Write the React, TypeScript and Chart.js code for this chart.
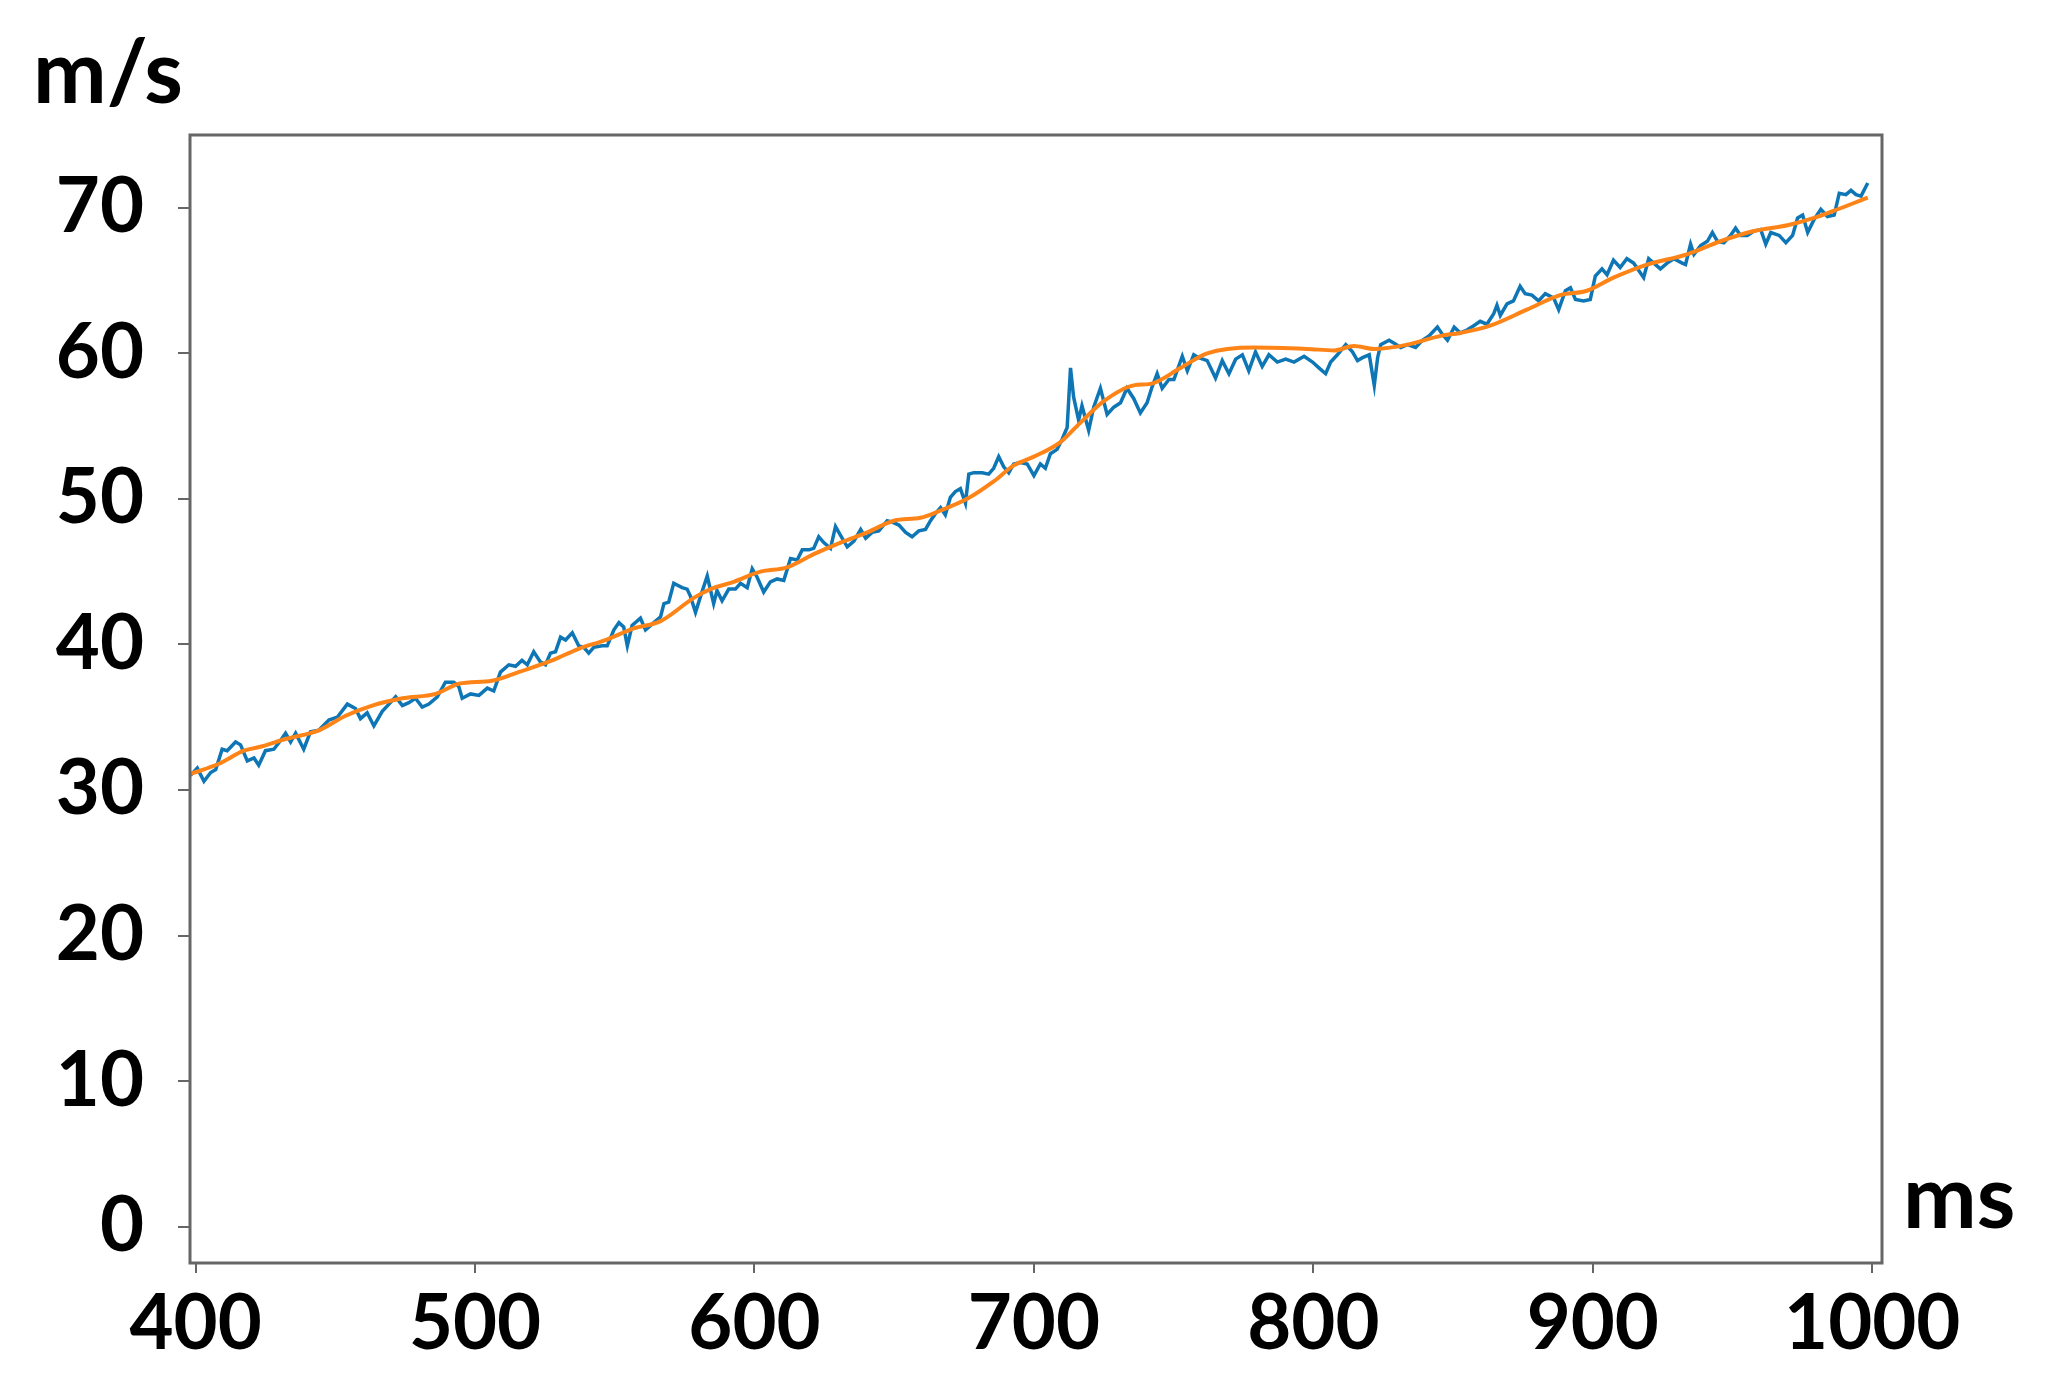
import React, { useRef, useEffect } from 'react';
import { Chart, registerables } from 'chart.js';

Chart.register(...registerables);

// raw speed signal (blue)
const rawTime = [
  398.2, 400.6, 403.0, 405.4, 407.2, 409.5, 411.3, 414.3, 416.1, 418.5, 420.9, 422.6, 425.0, 428.0, 430.4,
  432.2, 434.0, 435.8, 438.7, 441.1, 444.1, 447.7, 450.7, 454.3, 457.2, 459.0, 461.4, 463.8, 466.8, 469.2,
  471.6, 474.0, 476.3, 478.7, 481.1, 483.5, 486.5, 489.4, 492.4, 494.2, 495.4, 498.4, 501.4, 504.4, 506.7,
  509.1, 512.1, 514.5, 516.8, 518.7, 521.0, 523.4, 525.2, 527.0, 528.8, 530.6, 532.4, 534.8, 537.1, 538.9,
  540.7, 542.5, 545.5, 547.3, 549.7, 551.5, 553.2, 554.5, 556.2, 559.2, 561.0, 564.0, 566.4, 567.6, 569.3,
  571.1, 574.1, 575.9, 577.1, 578.9, 580.7, 583.1, 585.4, 586.6, 588.4, 590.8, 593.2, 595.0, 597.4, 599.2,
  601.0, 603.3, 605.7, 608.1, 610.5, 612.9, 615.3, 617.1, 619.5, 621.2, 623.0, 624.8, 627.2, 629.0, 630.8,
  633.2, 635.6, 638.0, 639.8, 642.1, 644.5, 647.5, 649.3, 651.7, 654.1, 656.4, 658.8, 661.2, 663.0, 664.8,
  666.6, 668.3, 670.1, 671.9, 673.7, 675.5, 676.7, 678.5, 681.5, 683.8, 685.6, 687.4, 689.2, 691.0, 692.8,
  695.2, 697.6, 700.0, 702.3, 704.1, 705.9, 708.3, 710.1, 711.9, 713.1, 714.2, 716.0, 717.2, 719.6, 721.4,
  723.8, 726.2, 728.6, 731.0, 733.3, 735.7, 738.1, 740.5, 742.3, 744.1, 745.9, 748.3, 750.1, 753.1, 754.9,
  757.2, 759.0, 762.0, 765.0, 767.4, 769.8, 772.2, 774.6, 776.9, 779.3, 781.7, 784.1, 787.1, 790.1, 793.1,
  796.7, 799.7, 802.0, 804.4, 806.2, 808.6, 811.6, 814.0, 815.8, 817.6, 820.0, 821.8, 823.0, 824.1, 827.1,
  828.9, 831.3, 833.7, 836.6, 839.0, 841.4, 844.4, 846.2, 848.0, 850.4, 852.6, 855.0, 857.4, 859.7, 862.1,
  864.5, 865.7, 866.9, 869.3, 871.6, 874.0, 875.8, 878.2, 880.6, 883.0, 886.0, 887.8, 890.2, 892.0, 893.8,
  896.7, 899.1, 900.9, 903.3, 905.1, 907.4, 909.8, 912.2, 914.6, 916.4, 918.2, 920.0, 921.8, 924.2, 926.6,
  929.0, 932.0, 933.2, 935.0, 936.2, 938.6, 941.0, 942.8, 944.6, 946.9, 949.3, 951.1, 952.9, 955.3, 957.7,
  960.1, 961.9, 963.7, 966.7, 969.1, 971.5, 973.3, 975.1, 976.9, 979.2, 981.6, 984.0, 986.4, 988.2, 990.6,
  992.4, 994.2, 996.0, 998.4,
];
const rawSpeed = [
  31.0, 31.5, 30.6, 31.2, 31.4, 32.8, 32.7, 33.3, 33.1, 32.0, 32.2, 31.7, 32.7, 32.8, 33.4,
  33.9, 33.3, 33.9, 32.8, 34.0, 34.1, 34.8, 35.0, 35.9, 35.6, 34.9, 35.3, 34.4, 35.4, 35.9,
  36.4, 35.8, 36.0, 36.3, 35.7, 35.9, 36.4, 37.4, 37.4, 37.1, 36.3, 36.6, 36.5, 37.0, 36.8,
  38.1, 38.6, 38.5, 38.9, 38.6, 39.5, 38.8, 38.6, 39.4, 39.5, 40.5, 40.3, 40.8, 39.9, 39.8,
  39.4, 39.8, 39.9, 39.9, 41.0, 41.5, 41.2, 39.9, 41.3, 41.8, 41.0, 41.5, 41.9, 42.8, 42.9,
  44.2, 43.9, 43.8, 43.3, 42.2, 43.3, 44.7, 42.8, 43.7, 43.0, 43.8, 43.8, 44.2, 43.9, 45.2,
  44.6, 43.6, 44.3, 44.5, 44.4, 45.9, 45.8, 46.5, 46.5, 46.6, 47.4, 47.0, 46.6, 48.1, 47.5,
  46.7, 47.1, 47.9, 47.3, 47.7, 47.8, 48.5, 48.4, 48.2, 47.7, 47.4, 47.8, 47.9, 48.5, 49.0,
  49.4, 48.9, 50.1, 50.5, 50.7, 49.7, 51.7, 51.8, 51.8, 51.7, 52.1, 52.9, 52.2, 51.8, 52.4,
  52.5, 52.4, 51.6, 52.4, 52.1, 53.1, 53.4, 54.1, 54.9, 59.0, 57.0, 55.4, 56.4, 54.7, 56.3,
  57.6, 55.8, 56.3, 56.6, 57.6, 56.9, 55.9, 56.6, 57.7, 58.6, 57.6, 58.2, 58.2, 59.8, 58.8,
  59.9, 59.7, 59.5, 58.3, 59.5, 58.6, 59.6, 59.9, 58.8, 60.1, 59.1, 59.9, 59.4, 59.6, 59.4,
  59.8, 59.4, 59.0, 58.6, 59.4, 59.9, 60.6, 60.1, 59.5, 59.7, 59.9, 57.8, 59.7, 60.6, 60.9,
  60.7, 60.4, 60.6, 60.4, 60.9, 61.2, 61.8, 61.3, 60.9, 61.8, 61.4, 61.6, 61.9, 62.2, 62.0,
  62.7, 63.3, 62.6, 63.4, 63.6, 64.6, 64.1, 64.0, 63.6, 64.1, 63.8, 63.0, 64.3, 64.5, 63.7,
  63.6, 63.7, 65.3, 65.8, 65.4, 66.4, 65.9, 66.5, 66.2, 65.7, 65.2, 66.5, 66.2, 65.8, 66.2,
  66.5, 66.2, 66.1, 67.5, 66.8, 67.4, 67.7, 68.3, 67.7, 67.6, 68.1, 68.6, 68.1, 68.1, 68.4,
  68.5, 67.5, 68.3, 68.1, 67.6, 68.1, 69.3, 69.5, 68.3, 69.2, 69.9, 69.4, 69.5, 71.0, 70.9,
  71.2, 70.9, 70.8, 71.7,
];

// smoothed speed (orange)
const smoothTime = [
  398.2, 408.3, 417.3, 423.9, 432.2, 444.1, 453.7, 463.2, 474.0, 485.9, 494.2, 506.1, 515.6, 527.6, 537.1,
  546.7, 556.8, 566.4, 578.3, 584.3, 592.6, 602.1, 611.7, 621.2, 630.8, 640.4, 649.9, 659.4, 666.6, 676.1,
  685.6, 692.8, 700.0, 709.5, 715.4, 724.9, 735.7, 741.7, 752.5, 762.0, 778.7, 797.8, 807.4, 814.5, 821.8,
  833.7, 845.6, 852.6, 863.3, 876.4, 888.3, 897.9, 907.4, 919.4, 933.7, 945.7, 957.7, 969.7, 979.2, 986.4,
  998.4,
];
const smoothSpeed = [
  31.1, 31.8, 32.7, 33.0, 33.5, 34.1, 35.1, 35.8, 36.3, 36.6, 37.3, 37.5, 38.1, 38.9, 39.7,
  40.3, 41.1, 41.6, 43.2, 43.8, 44.3, 45.0, 45.3, 46.2, 47.0, 47.7, 48.5, 48.7, 49.2, 50.0,
  51.2, 52.3, 52.9, 53.9, 55.0, 56.7, 57.8, 57.9, 59.0, 60.0, 60.4, 60.3, 60.2, 60.5, 60.3,
  60.6, 61.2, 61.4, 61.9, 63.0, 64.0, 64.3, 65.2, 66.1, 66.8, 67.7, 68.4, 68.8, 69.3, 69.8,
  70.7,
];

const xTicks = [400, 500, 600, 700, 800, 900, 1000];
const yTicks = [0, 10, 20, 30, 40, 50, 60, 70];

const FONT = 'Lato, "Open Sans", sans-serif';

// frame around the plot + unit labels
const framePlugin = {
  id: 'frame',
  afterDraw(chart: any) {
    const { ctx, chartArea: a } = chart;
    ctx.save();
    ctx.strokeStyle = '#666666';
    ctx.lineWidth = 3;
    ctx.strokeRect(a.left, a.top, a.right - a.left, a.bottom - a.top);
    ctx.fillStyle = '#000';
    ctx.font = `bold 88px ${FONT}`;
    ctx.textBaseline = 'alphabetic';
    ctx.textAlign = 'left';
    ctx.fillText('m/s', 33, 103);
    ctx.fillText('ms', a.right + 21, 1228);
    ctx.restore();
  },
};

const App = () => {
  const canvasRef = useRef<any>(null);
  const chartRef = useRef<any>(null);

  useEffect(() => {
    if (canvasRef.current) {
      const ctx = canvasRef.current.getContext('2d');
      if (chartRef.current) {
        chartRef.current.destroy();
      }

      chartRef.current = new Chart(ctx, {
        type: 'line',
        data: {
          datasets: [
            {
              label: 'raw',
              data: rawTime.map((t, i) => ({ x: t, y: rawSpeed[i] })),
              borderColor: '#0f76b5',
              borderWidth: 3.5,
              pointRadius: 0,
              tension: 0,
              order: 2,
            },
            {
              label: 'smooth',
              data: smoothTime.map((t, i) => ({ x: t, y: smoothSpeed[i] })),
              borderColor: '#ff8418',
              borderWidth: 4,
              pointRadius: 0,
              cubicInterpolationMode: 'monotone',
              order: 1,
            },
          ],
        },
        options: {
          animation: false,
          responsive: true,
          maintainAspectRatio: false,
          layout: { padding: { top: 135, right: 170, left: 0, bottom: 0 } },
          plugins: {
            legend: { display: false },
            tooltip: { enabled: false },
          },
          scales: {
            x: {
              type: 'linear',
              min: 398,
              max: 1003.5,
              afterBuildTicks: (s: any) => {
                s.ticks = xTicks.map((v) => ({ value: v }));
              },
              afterFit: (s: any) => {
                s.height = 123;
              },
              border: { display: false },
              grid: {
                drawOnChartArea: false,
                drawTicks: true,
                tickLength: 10,
                color: '#666666',
                lineWidth: 2,
              },
              ticks: {
                color: '#000',
                padding: 6,
                maxRotation: 0,
                callback: (v: any) => String(v),
                font: { family: FONT, size: 76, weight: 'bold' },
              },
            },
            y: {
              min: -2.5,
              max: 75,
              afterBuildTicks: (s: any) => {
                s.ticks = yTicks.map((v) => ({ value: v }));
              },
              afterFit: (s: any) => {
                s.width = 190;
              },
              border: { display: false },
              grid: {
                drawOnChartArea: false,
                drawTicks: true,
                tickLength: 12,
                color: '#666666',
                lineWidth: 2,
              },
              ticks: {
                color: '#000',
                padding: 34,
                callback: (v: any) => String(v),
                font: { family: FONT, size: 76, weight: 'bold' },
              },
            },
          },
        },
        plugins: [framePlugin],
      });
    }

    return () => {
      if (chartRef.current) {
        chartRef.current.destroy();
      }
    };
  }, []);

  return (
    <div style={{ position: 'fixed', left: 0, top: 0, width: '2052px', height: '1386px', background: '#fff' }}>
      <canvas ref={canvasRef} />
    </div>
  );
};

export default App;
